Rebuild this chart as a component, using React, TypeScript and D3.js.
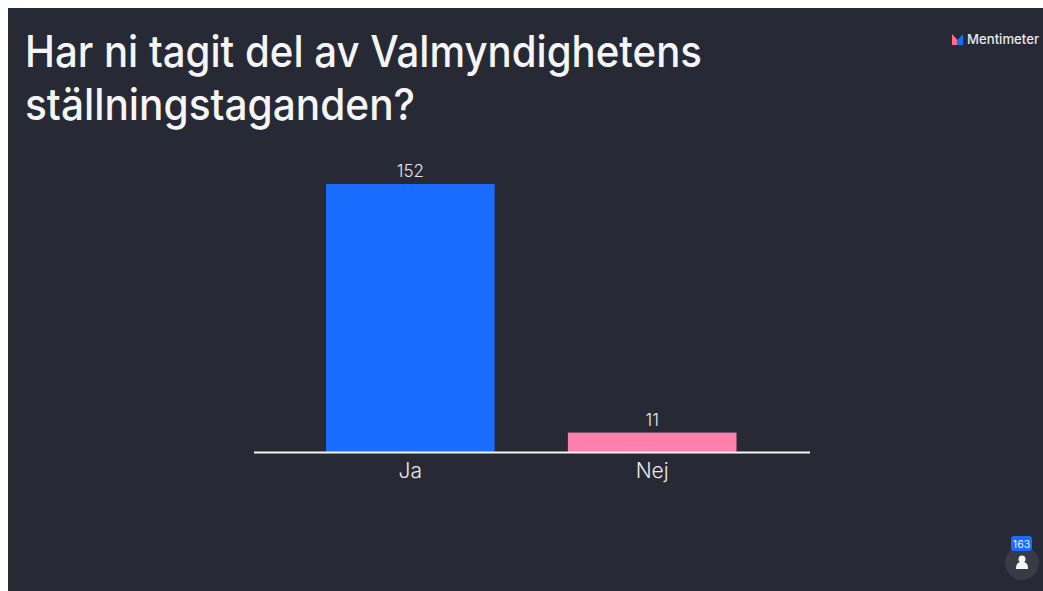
import React from "react";
import * as d3 from "d3";

const categories = ["Ja", "Nej"];
const seriesValues = [152, 11];
const barColors = ["#196cff", "#ff80ab"];
const titleLines = ["Har ni tagit del av Valmyndighetens", "ställningstaganden?"];
const brandName = "Mentimeter";
const responseCount = "163";

const BG = "#272a35";
const FONT = "Inter, Lato, sans-serif";

export default function App() {
  const x = d3.scaleBand<string>().domain(categories).range([326, 736.5]).paddingInner(0.303).paddingOuter(0);
  const y = d3.scaleLinear().domain([0, 152]).range([452, 184]);
  const person = d3.path();
  person.moveTo(1016, 569);
  person.bezierCurveTo(1016, 563.5, 1018, 562, 1022, 562);
  person.bezierCurveTo(1026, 562, 1028, 563.5, 1028, 569);
  person.closePath();
  return (
    <svg width={1043} height={591} viewBox="0 0 1043 591" style={{ display: "block", position: "absolute", left: 0, top: 0, maxWidth: "none" }} fontFamily={FONT}>
      <rect x={8} y={8} width={1035} height={583} fill={BG} />
      {titleLines.map((t, i) => (
        <text key={t} x={25} y={[67, 120][i]} fontSize={44} fontWeight={450} fill="#f4f5f7" textLength={i === 0 ? 677 : 390} lengthAdjust="spacingAndGlyphs">{t}</text>
      ))}
      <g>
        <path d="M952 45V34L957.5 40L957.5 45Z" fill="#ff6b8b" />
        <path d="M963 45V34L957.5 40L957.5 45Z" fill="#196cff" />
        <text x={967} y={44} fontSize={13} fontWeight={500} fill="#e8e9ec" textLength={72} lengthAdjust="spacingAndGlyphs">{brandName}</text>
      </g>
      {categories.map((c, i) => (
        <g key={c}>
          <rect x={x(c)} y={y(seriesValues[i])} width={x.bandwidth()} height={y(0) - y(seriesValues[i])} fill={barColors[i]} />
          <text x={x(c)! + x.bandwidth() / 2} y={y(seriesValues[i]) - 7} textAnchor="middle" fontSize={17} fontWeight={300} fill="#e8e9ec">{seriesValues[i]}</text>
          <text x={x(c)! + x.bandwidth() / 2} y={478} textAnchor="middle" fontSize={21} fontWeight={300} fill="#e8e9ec">{c}</text>
        </g>
      ))}
      <line x1={254} x2={810} y1={452.5} y2={452.5} stroke="#f4f5f7" strokeWidth={2} />
      <circle cx={1022} cy={563} r={17} fill="#383b46" />
      <rect x={1011} y={536} width={21} height={15} rx={3} fill="#196cff" />
      <text x={1021.5} y={547.5} textAnchor="middle" fontSize={10.5} fill="#e8f0ff">{responseCount}</text>
      <circle cx={1022} cy={559} r={3.5} fill="#f4f5f7" />
      <path d={person.toString()} fill="#f4f5f7" />
    </svg>
  );
}
